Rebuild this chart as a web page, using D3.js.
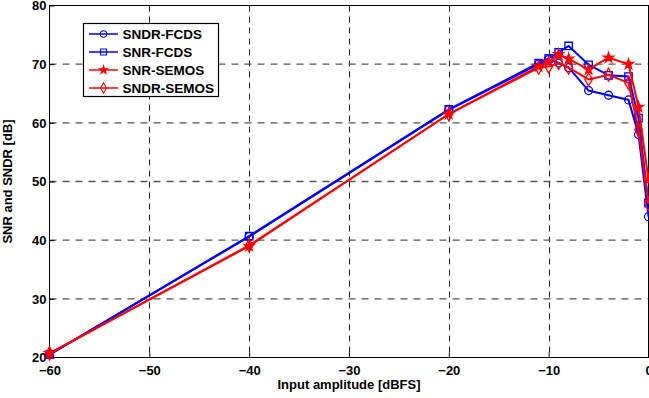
<!DOCTYPE html>
<html>
<head>
<meta charset="utf-8">
<script src="https://cdn.jsdelivr.net/npm/d3@7"></script>
<style>
  body { margin: 0; background: #fff; }
  svg { display: block; font-family: "Liberation Sans", Arial, sans-serif; font-weight: bold; }
</style>
</head>
<body>
<div id="chart"></div>
<script>
// input amplitudes [dBFS]
const amplitude = [-60, -40, -20, -11, -10, -9, -8, -6, -4, -2, -1, 0];

const sndrFcds  = [20.5, 40.6, 62.2, 70.0, 70.8, 70.2, 69.4, 65.5, 64.7, 63.9, 58.0, 44.0];
const snrFcds   = [20.5, 40.7, 62.3, 70.2, 71.0, 72.0, 73.1, 69.9, 68.1, 67.9, 60.8, 46.3];
const snrSemos  = [20.7, 39.0, 61.5, 69.6, 70.4, 71.7, 70.9, 69.1, 71.1, 70.0, 62.7, 50.3];
const sndrSemos = [20.7, 39.1, 61.5, 69.4, 69.6, 70.2, 69.4, 67.4, 68.2, 66.8, 58.8, 46.2];

const xTicks = [-60, -50, -40, -30, -20, -10, 0];
const yTicks = [20, 30, 40, 50, 60, 70, 80];

const seriesNames = ['SNDR-FCDS', 'SNR-FCDS', 'SNR-SEMOS', 'SNDR-SEMOS'];
const seriesValues = [sndrFcds, snrFcds, snrSemos, sndrSemos];
const seriesColors = ['#0000ff', '#0000ff', '#ff0000', '#ff0000'];
const seriesMarkers = ['circle', 'square', 'star', 'diamond'];

let width = 649, height = 398;
let x = d3.scaleLinear().domain([-60, 0]).range([49.5, 648.5]);
let y = d3.scaleLinear().domain([20, 80]).range([357.5, 5.5]);

let svg = d3.select('#chart').append('svg')
  .attr('width', width)
  .attr('height', height);

// grid
svg.append('g').selectAll('line')
  .data(xTicks.slice(1, -1))
  .enter().append('line')
  .attr('x1', d => Math.round(x(d)) + 0.5).attr('x2', d => Math.round(x(d)) + 0.5)
  .attr('y1', y(80)).attr('y2', y(20))
  .attr('stroke', '#222').attr('stroke-dasharray', '6,5');

svg.append('g').selectAll('line')
  .data(yTicks.slice(1, -1))
  .enter().append('line')
  .attr('x1', x(-60)).attr('x2', x(0))
  .attr('y1', d => y(d)).attr('y2', d => y(d))
  .attr('stroke', '#555').attr('stroke-width', 1.3).attr('stroke-dasharray', '7,6');

// axes (ticks inside)
let xAxis = d3.axisBottom(x).tickValues(xTicks).tickSize(-5).tickPadding(10).tickFormat(d3.format('d'));
let yAxis = d3.axisLeft(y).tickValues(yTicks).tickSize(-5).tickPadding(3).tickFormat(d3.format('d'));

let gx = svg.append('g')
  .attr('transform', 'translate(0,' + y(20) + ')')
  .call(xAxis);
let gy = svg.append('g')
  .attr('transform', 'translate(' + x(-60) + ',0)')
  .call(yAxis);
[gx, gy].forEach(g => {
  g.select('.domain').remove();
  g.selectAll('.tick line').attr('stroke', '#000');
  g.selectAll('.tick text')
    .attr('fill', '#000')
    .style('font-size', '13px')
    .style('font-weight', 'bold')
    .style('font-family', '"Liberation Sans", Arial, sans-serif');
});
gx.selectAll('.tick text').attr('dy', '0.71em').attr('y', 8);

// box
svg.append('rect')
  .attr('x', x(-60)).attr('y', y(80))
  .attr('width', x(0) - x(-60)).attr('height', y(20) - y(80))
  .attr('fill', 'none').attr('stroke', '#000').attr('stroke-width', 1);

function markerPath(kind) {
  if (kind === 'circle') return d3.symbol().type(d3.symbolCircle).size(50)();
  if (kind === 'square') return d3.symbol().type(d3.symbolSquare).size(55)();
  if (kind === 'star') return d3.symbol().type(d3.symbolStar).size(32)();
  return d3.symbol().type(d3.symbolDiamond).size(50)();
}

let line = d3.line()
  .x((d, i) => x(amplitude[i]))
  .y(d => y(d));

seriesValues.forEach(function(vals, s) {
  let g = svg.append('g');
  g.append('path')
    .datum(vals)
    .attr('d', line)
    .attr('fill', 'none')
    .attr('stroke', seriesColors[s])
    .attr('stroke-width', 2);
  g.selectAll('path.mk')
    .data(vals)
    .enter().append('path')
    .attr('class', 'mk')
    .attr('d', markerPath(seriesMarkers[s]))
    .attr('transform', (d, i) => 'translate(' + x(amplitude[i]) + ',' + y(d) + ')')
    .attr('fill', seriesMarkers[s] === 'star' ? seriesColors[s] : 'none')
    .attr('stroke', seriesColors[s])
    .attr('stroke-width', 1.3);
});

// legend
let legend = svg.append('g');
legend.append('rect')
  .attr('x', 83.5).attr('y', 23.5)
  .attr('width', 135).attr('height', 73)
  .attr('fill', '#fff').attr('stroke', '#000').attr('stroke-width', 1.2);
seriesNames.forEach(function(name, s) {
  let ly = 34 + s * 18;
  legend.append('line')
    .attr('x1', 89).attr('x2', 118).attr('y1', ly).attr('y2', ly)
    .attr('stroke', seriesColors[s]).attr('stroke-width', 1.5);
  legend.append('path')
    .attr('d', markerPath(seriesMarkers[s]))
    .attr('transform', 'translate(103.5,' + ly + ') scale(0.8)')
    .attr('fill', seriesMarkers[s] === 'star' ? seriesColors[s] : 'none')
    .attr('stroke', seriesColors[s]).attr('stroke-width', 1.3);
  legend.append('text')
    .attr('x', 122.5).attr('y', ly + 5)
    .style('font-size', '13.5px')
    .text(name);
});

// axis labels
svg.append('text')
  .attr('x', (x(-60) + x(0)) / 2).attr('y', 389)
  .attr('text-anchor', 'middle')
  .style('font-size', '13px')
  .text('Input amplitude [dBFS]');

svg.append('text')
  .attr('transform', 'translate(12,' + (y(20) + y(80)) / 2 + ') rotate(-90)')
  .attr('text-anchor', 'middle')
  .style('font-size', '13px')
  .text('SNR and SNDR [dB]');
</script>
</body>
</html>
